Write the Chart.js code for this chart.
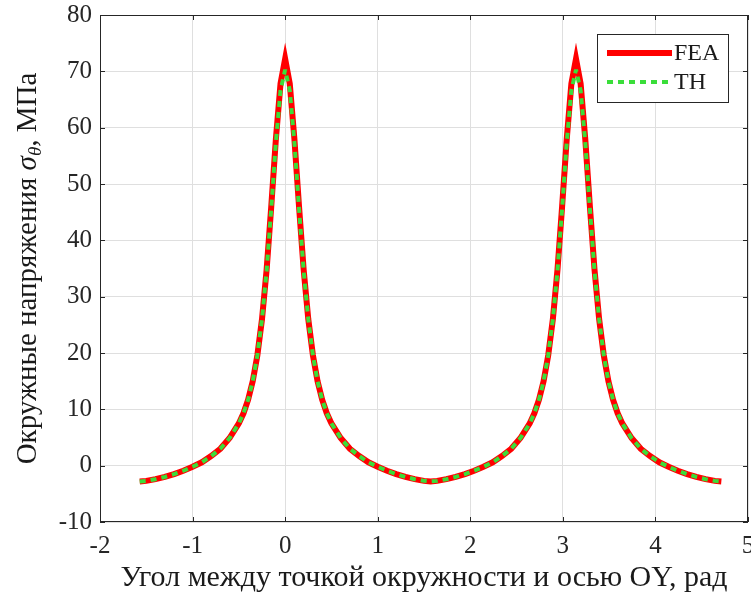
<!DOCTYPE html>
<html>
<head>
<meta charset="utf-8">
<script src="https://cdn.jsdelivr.net/npm/chart.js@4.4.1/dist/chart.umd.min.js"></script>
<style>
  html, body { margin: 0; padding: 0; background: #ffffff; }
  #wrap { position: relative; width: 751px; height: 596px; }
</style>
</head>
<body>
<div id="wrap"><canvas id="c" width="751" height="596"></canvas></div>
<script>
// ---- data ----
const angles = [
  -1.571, -1.5, -1.4, -1.3, -1.2, -1.1, -1.0, -0.9, -0.8, -0.7, -0.6, -0.5, -0.45, -0.4, -0.35, -0.3, -0.25, -0.2, -0.15, -0.1, -0.05, 0,
  0.05, 0.1, 0.15, 0.2, 0.25, 0.3, 0.35, 0.4, 0.45, 0.5, 0.6, 0.7, 0.8, 0.9, 1.0, 1.1, 1.2, 1.3, 1.4, 1.5, 1.571,
  1.642, 1.742, 1.842, 1.942, 2.042, 2.142, 2.242, 2.342, 2.442, 2.542, 2.642, 2.692, 2.742, 2.792, 2.842, 2.892, 2.942, 2.992, 3.042, 3.092, 3.142,
  3.192, 3.242, 3.292, 3.342, 3.392, 3.442, 3.492, 3.542, 3.592, 3.642, 3.742, 3.842, 3.942, 4.042, 4.142, 4.242, 4.342, 4.442, 4.542, 4.642, 4.712
];
const feaValues = [
  -2.8, -2.7, -2.4, -2.0, -1.5, -0.9, -0.2, 0.6, 1.7, 3.0, 4.9, 7.5, 9.3, 11.7, 15.0, 19.6, 26.0, 34.8, 46.0, 58.0, 67.8, 72.2,
  67.8, 58.0, 46.0, 34.8, 26.0, 19.6, 15.0, 11.7, 9.3, 7.5, 4.9, 3.0, 1.7, 0.6, -0.2, -0.9, -1.5, -2.0, -2.4, -2.7, -2.8,
  -2.7, -2.4, -2.0, -1.5, -0.9, -0.2, 0.6, 1.7, 3.0, 4.9, 7.5, 9.3, 11.7, 15.0, 19.6, 26.0, 34.8, 46.0, 58.0, 67.8, 72.2,
  67.8, 58.0, 46.0, 34.8, 26.0, 19.6, 15.0, 11.7, 9.3, 7.5, 4.9, 3.0, 1.7, 0.6, -0.2, -0.9, -1.5, -2.0, -2.4, -2.7, -2.8
];
const thValues = [
  -2.8, -2.7, -2.4, -2.0, -1.5, -0.9, -0.2, 0.6, 1.7, 3.0, 4.9, 7.5, 9.3, 11.7, 15.0, 19.6, 26.0, 34.6, 45.6, 57.4, 66.6, 70.3,
  66.6, 57.4, 45.6, 34.6, 26.0, 19.6, 15.0, 11.7, 9.3, 7.5, 4.9, 3.0, 1.7, 0.6, -0.2, -0.9, -1.5, -2.0, -2.4, -2.7, -2.8,
  -2.7, -2.4, -2.0, -1.5, -0.9, -0.2, 0.6, 1.7, 3.0, 4.9, 7.5, 9.3, 11.7, 15.0, 19.6, 26.0, 34.6, 45.6, 57.4, 66.6, 70.3,
  66.6, 57.4, 45.6, 34.6, 26.0, 19.6, 15.0, 11.7, 9.3, 7.5, 4.9, 3.0, 1.7, 0.6, -0.2, -0.9, -1.5, -2.0, -2.4, -2.7, -2.8
];
const seriesNames = ["FEA", "TH"];
const xTicks = [-2, -1, 0, 1, 2, 3, 4, 5];
const yTicks = [-10, 0, 10, 20, 30, 40, 50, 60, 70, 80];
const xTitle = "Угол между точкой окружности и осью OY, рад";
const yTitleParts = ["Окружные напряжения ", "σ", "θ", ", МПа"];

const FONT = "'Liberation Serif', 'Times New Roman', serif";
const AXC = "#262626";
const RED = "#ff0000";
const GREEN = "#3ade3a";
const DASH = [6, 5];

const boxPlugin = {
  id: 'boxPlugin',
  afterDraw(chart) {
    const ctx = chart.ctx;
    const { left, right, top, bottom } = chart.chartArea;
    const xs = chart.scales.x, ys = chart.scales.y;
    ctx.save();
    ctx.strokeStyle = AXC;
    ctx.lineWidth = 1;
    ctx.strokeRect(left + 0.5, top + 0.5, right - left - 1, bottom - top - 1);
    ctx.beginPath();
    const tl = 5;
    xTicks.forEach(v => {
      const px = Math.round(xs.getPixelForValue(v)) + 0.5;
      ctx.moveTo(px, bottom); ctx.lineTo(px, bottom - tl);
      ctx.moveTo(px, top); ctx.lineTo(px, top + tl);
    });
    yTicks.forEach(v => {
      const py = Math.round(ys.getPixelForValue(v)) + 0.5;
      ctx.moveTo(left, py); ctx.lineTo(left + tl, py);
      ctx.moveTo(right, py); ctx.lineTo(right - tl, py);
    });
    ctx.stroke();

    // y-axis title with subscript
    ctx.fillStyle = "#1a1a1a";
    ctx.translate(28, (top + bottom) / 2);
    ctx.rotate(-Math.PI / 2);
    ctx.textBaseline = 'middle';
    const fN = "29px " + FONT, fI = "italic 29px " + FONT, fS = "italic 19px " + FONT;
    ctx.font = fN; const w0 = ctx.measureText(yTitleParts[0]).width;
    ctx.font = fI; const w1 = ctx.measureText(yTitleParts[1]).width;
    ctx.font = fS; const w2 = ctx.measureText(yTitleParts[2]).width;
    ctx.font = fN; const w3 = ctx.measureText(yTitleParts[3]).width;
    let x0 = -(w0 + w1 + w2 + w3) / 2;
    ctx.textAlign = 'left';
    ctx.font = fN; ctx.fillText(yTitleParts[0], x0, 0); x0 += w0;
    ctx.font = fI; ctx.fillText(yTitleParts[1], x0, 0); x0 += w1;
    ctx.font = fS; ctx.fillText(yTitleParts[2], x0, 8); x0 += w2;
    ctx.font = fN; ctx.fillText(yTitleParts[3], x0, 0);
    ctx.restore();

    // legend
    ctx.save();
    const lx = 597, ly = 34, lw = 131, lh = 68;
    ctx.fillStyle = "#ffffff";
    ctx.fillRect(lx, ly, lw, lh);
    ctx.strokeStyle = AXC; ctx.lineWidth = 1;
    ctx.strokeRect(lx + 0.5, ly + 0.5, lw, lh);
    const ds = chart.data.datasets;
    const rows = [53, 82];
    ds.forEach((d, i) => {
      ctx.beginPath();
      ctx.strokeStyle = d.borderColor;
      ctx.lineWidth = d.borderWidth;
      ctx.setLineDash(d.borderDash || []);
      ctx.moveTo(607, rows[i]); ctx.lineTo(672, rows[i]);
      ctx.stroke();
      ctx.setLineDash([]);
      ctx.fillStyle = "#1a1a1a";
      ctx.font = "24px " + FONT;
      ctx.textBaseline = 'middle';
      ctx.textAlign = 'left';
      ctx.fillText(d.label, 674, rows[i] + 1);
    });
    ctx.restore();
  }
};

new Chart(document.getElementById('c'), {
  type: 'line',
  data: {
    datasets: [
      {
        label: seriesNames[0],
        data: angles.map((a, i) => ({ x: a, y: feaValues[i] })),
        borderColor: RED, backgroundColor: RED,
        borderWidth: 6, pointRadius: 0, tension: 0, order: 2,
        borderJoinStyle: 'miter', borderCapStyle: 'butt'
      },
      {
        label: seriesNames[1],
        data: angles.map((a, i) => ({ x: a, y: thValues[i] })),
        borderColor: GREEN, backgroundColor: GREEN,
        borderWidth: 4, borderDash: DASH, pointRadius: 0, tension: 0, order: 1,
        borderJoinStyle: 'bevel', borderCapStyle: 'butt'
      }
    ]
  },
  options: {
    responsive: false,
    animation: false,
    devicePixelRatio: 1,
    layout: { padding: { top: 15, right: 3, left: 0, bottom: 0 } },
    plugins: { legend: { display: false }, tooltip: { enabled: false } },
    scales: {
      x: {
        type: 'linear', min: -2, max: 5,
        afterBuildTicks: s => { s.ticks = xTicks.map(v => ({ value: v })); },
        afterFit: s => { s.height = 74; s.paddingLeft = 0; s.paddingRight = 0; },
        grid: { color: '#dfdfdf', drawTicks: false, lineWidth: 1 },
        border: { display: false },
        ticks: { padding: 9, color: AXC, font: { family: FONT, size: 25 }, maxRotation: 0, autoSkip: false },
        title: { display: true, text: xTitle, color: '#1a1a1a', font: { family: FONT, size: 30 }, padding: { top: 0, bottom: 0 } }
      },
      y: {
        type: 'linear', min: -10, max: 80,
        afterBuildTicks: s => { s.ticks = yTicks.map(v => ({ value: v })); },
        afterFit: s => { s.width = 100; s.paddingTop = 0; s.paddingBottom = 0; },
        grid: { color: '#dfdfdf', drawTicks: false, lineWidth: 1 },
        border: { display: false },
        ticks: { padding: 8, color: AXC, font: { family: FONT, size: 25 }, autoSkip: false }
      }
    }
  },
  plugins: [boxPlugin]
});
</script>
</body>
</html>
